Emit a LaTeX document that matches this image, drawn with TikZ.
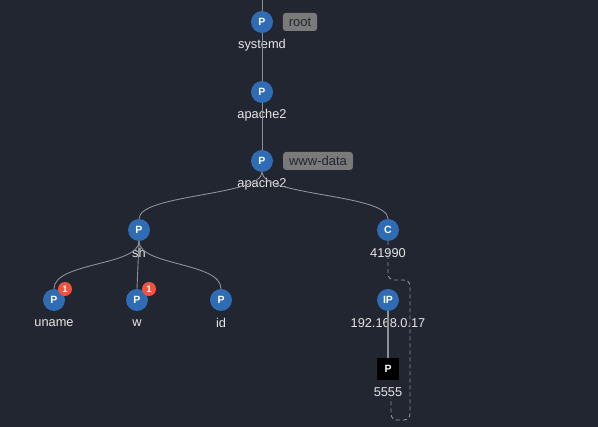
\documentclass[tikz,border=0pt]{standalone}
\usepackage{fontspec}
\setmainfont{Liberation Sans}
\usetikzlibrary{arrows.meta,positioning,shapes.geometric}
\definecolor{BgDark}{HTML}{222631}
\definecolor{ProcBlue}{HTML}{2F6CB3}
\definecolor{TagGray}{HTML}{7A7A7A}
\definecolor{EdgeGray}{HTML}{8E9096}
\definecolor{BadgeRed}{HTML}{EE533F}
\definecolor{LabelWhite}{HTML}{E6E6E6}

\begin{document}
\begin{tikzpicture}[x=1pt,y=-1pt,
    proc/.style={circle,fill=ProcBlue,minimum size=22pt,inner sep=0pt,
                 text=white,font=\fontsize{10.5}{10.5}\selectfont\bfseries},
    port/.style={rectangle,fill=black,minimum size=22pt,inner sep=0pt,
                 text=white,font=\fontsize{10.5}{10.5}\selectfont\bfseries},
    lbl/.style={text=LabelWhite,font=\fontsize{12.8}{12.8}\selectfont,inner sep=0pt},
    tag/.style={rectangle,rounded corners=3pt,fill=TagGray,text=BgDark,
                minimum height=18pt,inner xsep=6pt,inner ysep=0pt,
                font=\fontsize{13}{13}\selectfont},
    badge/.style={circle,fill=BadgeRed,minimum size=14pt,inner sep=0pt,
                  text=white,font=\fontsize{9.5}{9.5}\selectfont\bfseries},
    link/.style={EdgeGray,line width=0.9pt}]
  % Background
  \fill[BgDark] (0,0) rectangle (598,427);
  \useasboundingbox (0,0) rectangle (598,427);
  % Process chain
  \coordinate (top) at (262,0);
  \node[proc] (systemd) at (262,22) {P};
  \node[lbl] (systemd-l) at (262,45) {systemd};
  \node[tag] (root) at (300,22) {root};
  \node[proc] (apache) at (262,92) {P};
  \node[lbl] (apache-l) at (262,115) {apache2};
  \node[proc] (apache2) at (262,161) {P};
  \node[lbl] (apache2-l) at (262,184) {apache2};
  \node[tag] (wwwdata) at (318,161) {www-data};
  % Children
  \node[proc] (sh) at (139,230) {P};
  \node[lbl] (sh-l) at (139,253) {sh};
  \node[proc] (conn) at (388,230) {C};
  \node[lbl] (conn-l) at (388,253) {41990};
  \node[proc] (uname) at (54,300) {P};
  \node[lbl] (uname-l) at (54,323) {uname};
  \node[badge] (uname-b) at (65,289) {1};
  \node[proc] (w) at (137,300) {P};
  \node[lbl] (w-l) at (137,323) {w};
  \node[badge] (w-b) at (149,289) {1};
  \node[proc] (id) at (221,300) {P};
  \node[lbl] (id-l) at (221,323) {id};
  % Network
  \node[proc] (ip) at (388,300) {IP};
  \node[lbl] (ip-l) at (388,323) {192.168.0.17};
  \node[port] (port) at (388,369) {P};
  \node[lbl] (port-l) at (388,392) {5555};
  % Links
  \draw[link] (top) -- (systemd.north);
  \draw[link] (systemd.south) -- (apache.north);
  \draw[link] (apache.south) -- (apache2.north);
  \draw[link] (apache2.south) .. controls (262,196) and (139,194) .. (sh.north);
  \draw[link] (apache2.south) .. controls (262,196) and (388,194) .. (conn.north);
  \draw[link] (sh.south) .. controls (139,266) and (54,262) .. (uname.north);
  \draw[link] (sh.south) -- (w.north);
  \draw[link] (sh.south) .. controls (139,266) and (221,262) .. (id.north);
  \draw[EdgeGray,line width=1.6pt] (ip.south) -- (port.north);
  \draw[EdgeGray,line width=0.9pt,dash pattern=on 4pt off 3pt,rounded corners=6pt]
    (conn.south) -- (388,280) -- (410,280) -- (410,420) -- (391,420) -- (391,398);
\end{tikzpicture}
\end{document}
